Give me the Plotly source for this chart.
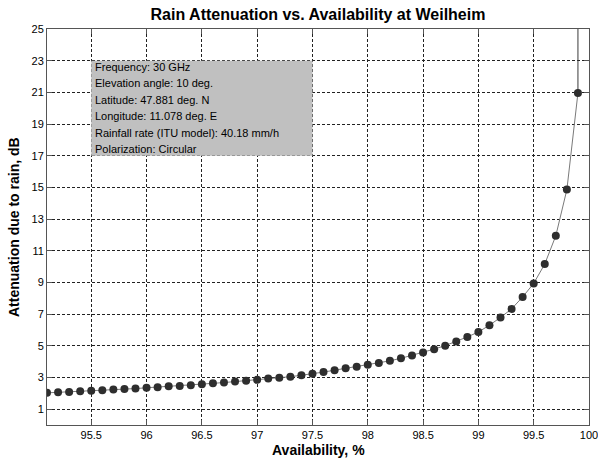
import plotly.graph_objects as go

# Rain attenuation exceeded vs. link availability (ITU rain model), Weilheim
availability = [95.1, 95.2, 95.3, 95.4, 95.5, 95.6, 95.7, 95.8, 95.9, 96.0,
                96.1, 96.2, 96.3, 96.4, 96.5, 96.6, 96.7, 96.8, 96.9, 97.0,
                97.1, 97.2, 97.3, 97.4, 97.5, 97.6, 97.7, 97.8, 97.9, 98.0,
                98.1, 98.2, 98.3, 98.4, 98.5, 98.6, 98.7, 98.8, 98.9, 99.0,
                99.1, 99.2, 99.3, 99.4, 99.5, 99.6, 99.7, 99.8, 99.9]
attenuation = [2.03, 2.06, 2.08, 2.13, 2.17, 2.19, 2.24, 2.27, 2.30, 2.35,
               2.39, 2.44, 2.47, 2.51, 2.57, 2.63, 2.68, 2.74, 2.79, 2.85,
               2.93, 2.99, 3.05, 3.14, 3.23, 3.34, 3.46, 3.58, 3.68, 3.80,
               3.91, 4.05, 4.21, 4.39, 4.58, 4.79, 5.01, 5.27, 5.56, 5.87,
               6.30, 6.79, 7.33, 8.08, 8.94, 10.16, 11.95, 14.86, 20.96]

x_ticks = [95.5, 96, 96.5, 97, 97.5, 98, 98.5, 99, 99.5, 100]
x_tick_labels = ["95.5", "96", "96.5", "97", "97.5", "98", "98.5", "99", "99.5", "100"]
y_ticks = [1, 3, 5, 7, 9, 11, 13, 15, 17, 19, 21, 23, 25]

info_lines = [
    "Frequency: 30 GHz",
    "Elevation angle: 10 deg.",
    "Latitude: 47.881 deg. N",
    "Longitude: 11.078 deg. E",
    "Rainfall rate (ITU model): 40.18 mm/h",
    "Polarization: Circular",
]

x_range = [95.1, 100]
y_range = [0, 25]
FONT = "Liberation Sans, Arial, Helvetica, sans-serif"

fig = go.Figure()

# curve continues off the top of the axes beyond the last sample
fig.add_trace(go.Scatter(
    x=[availability[-1], availability[-1]],
    y=[attenuation[-1], y_range[1] * 4],
    mode="lines", line=dict(color="#3a3a3a", width=1),
    hoverinfo="skip", showlegend=False,
))
fig.add_trace(go.Scatter(
    x=availability, y=attenuation,
    mode="lines+markers",
    line=dict(color="#7a7a7a", width=1),
    marker=dict(color="#2e2e2e", size=8, line=dict(width=0)),
    showlegend=False,
))

# parameter box
fig.add_shape(type="rect", xref="x", yref="y",
              x0=95.5, x1=97.5, y0=17, y1=23,
              fillcolor="#c0c0c0", line=dict(width=0), layer="between")
for i, line in enumerate(info_lines):
    fig.add_annotation(
        x=95.5, y=23, xref="x", yref="y",
        text=line, showarrow=False,
        xanchor="left", yanchor="middle",
        xshift=2, yshift=-(6 + 16.5 * i),
        font=dict(family=FONT, size=11, color="black"),
    )

# axis titles
fig.add_annotation(
    x=0.5, y=0, xref="paper", yref="paper",
    text="<b>Availability, %</b>", showarrow=False,
    xanchor="center", yanchor="middle", yshift=-25,
    font=dict(family=FONT, size=14, color="black"),
)
fig.add_annotation(
    x=0, y=0.5, xref="paper", yref="paper",
    text="<b>Attenuation due to rain, dB</b>", showarrow=False,
    textangle=-90, xanchor="center", yanchor="middle", xshift=-33,
    font=dict(family=FONT, size=14, color="black"),
)

axis_common = dict(
    showgrid=True, gridcolor="#222222", gridwidth=1, griddash="3px,2px",
    showline=True, linecolor="#555555", linewidth=1, mirror="ticks",
    ticks="inside", ticklen=5, tickcolor="#555555",
    zeroline=False, ticklabeloverflow="allow", automargin=False,
    tickfont=dict(family=FONT, size=11, color="black"),
)

fig.update_xaxes(range=x_range, tickvals=x_ticks, ticktext=x_tick_labels, **axis_common)
fig.update_yaxes(range=y_range, tickvals=y_ticks, **axis_common)

fig.update_layout(
    width=598, height=462,
    margin=dict(l=47, r=9, t=29, b=37, autoexpand=False),
    paper_bgcolor="white", plot_bgcolor="white",
    title=dict(
        text="<b>Rain Attenuation vs. Availability at Weilheim</b>",
        x=0.5, xref="paper", xanchor="center",
        y=1 - 14 / 462, yref="container", yanchor="middle",
        font=dict(family=FONT, size=16, color="black"),
    ),
    font=dict(family=FONT),
)

fig.write_html("out.html")
